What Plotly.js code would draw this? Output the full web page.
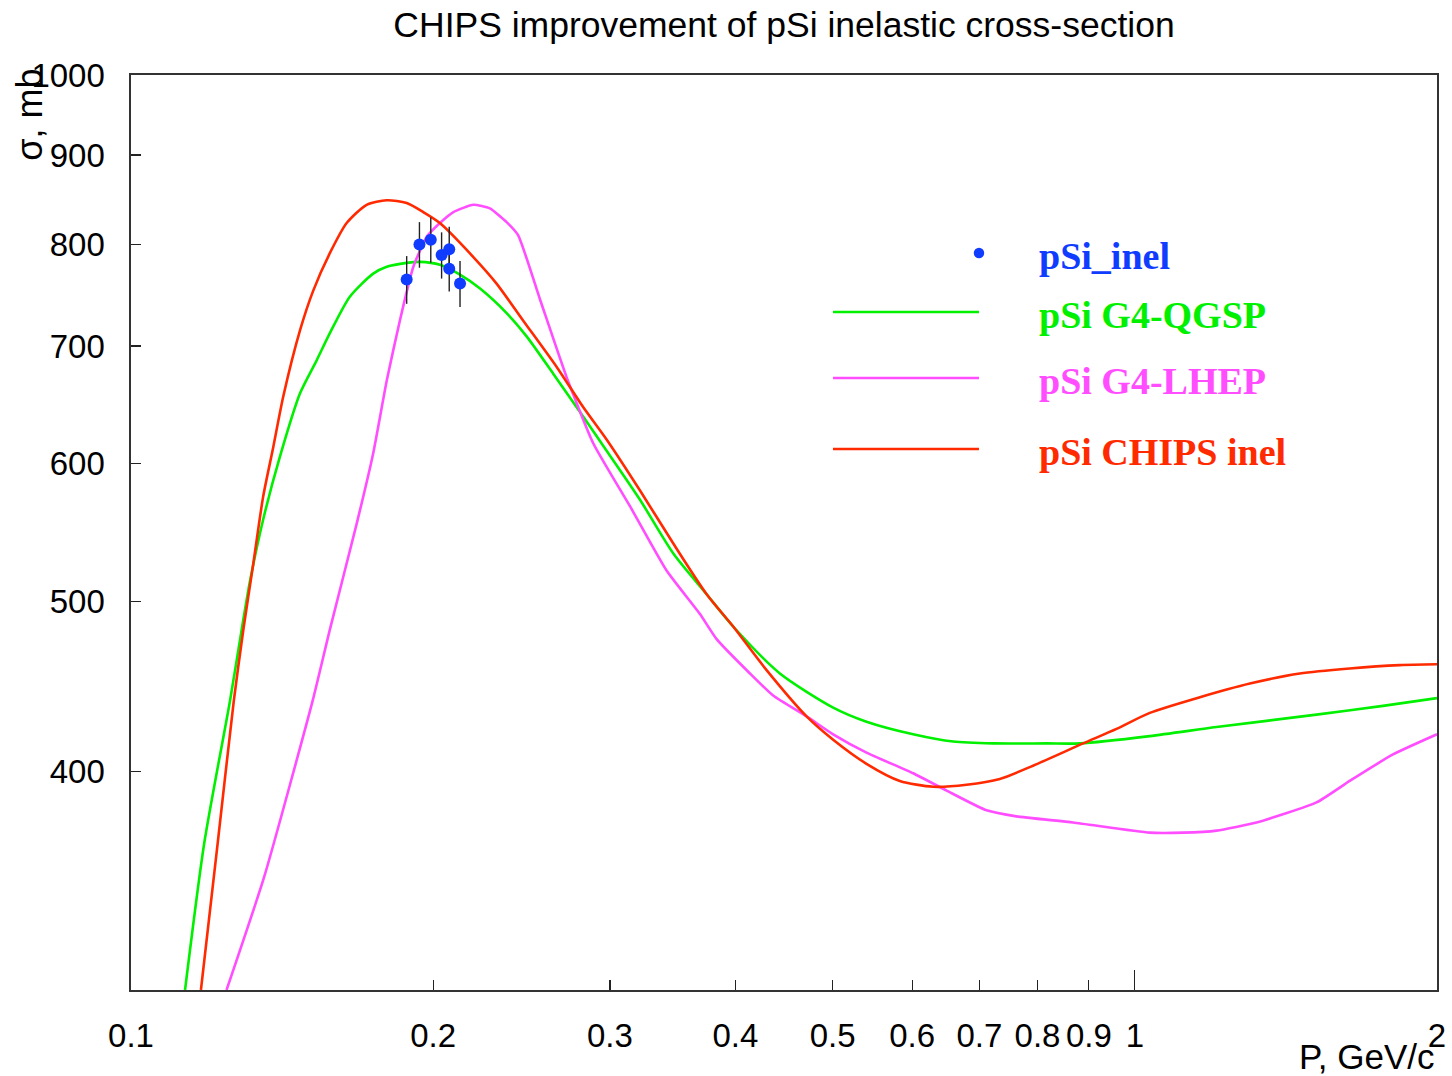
<!DOCTYPE html>
<html>
<head>
<meta charset="utf-8">
<script src="https://cdn.plot.ly/plotly-3.0.1.min.js"></script>
<style>html,body{margin:0;padding:0;background:#fff;}#chart{width:1452px;height:1076px;}</style>
</head>
<body>
<div id="chart"></div>
<script>
// ---- data ----
var expX = [0.1882, 0.1938, 0.1989, 0.2039, 0.2075, 0.2075, 0.2127];
var expY = [764, 800, 805, 789, 795, 775, 760];
var expErr = [24, 24, 24, 24, 24, 23, 23];

var qgspX = [0.1132,0.1183,0.1255,0.1289,0.1314,0.1354,0.1407,0.1474,0.1531,0.1578,
             0.1652,0.1743,0.1798,0.1882,0.1940,0.2031,0.2127,0.2227,0.2367,0.2478,
             0.2634,0.2821,0.2977,0.3213,0.3468,0.3745,0.3980,0.4430,0.5006,0.5404,
             0.6014,0.6593,0.7225,0.8168,0.8815,1.035,1.206,1.517,1.767,2.0];
var qgspY = [300,364,439,482,514,557,605,658,687,712,
             747,770,777,781,782,779,769,755,731,709,
             675,638,610,572,533,505,484,455,435,427,
             420,416,415,415,415,419,424,431,436,440.5];

var lhepX = [0.1245,0.1357,0.1517,0.1578,0.1678,0.1743,0.1798,0.1853,0.1911,0.1970,
             0.2031,0.2095,0.2193,0.2278,0.2367,0.2430,0.2556,0.2716,0.2887,0.3141,
             0.3416,0.3688,0.3832,0.4136,0.4362,0.4710,0.5006,0.5404,0.6014,0.6494,
             0.7117,0.7621,0.8681,1.035,1.117,1.206,1.322,1.517,1.637,1.808,2.0];
var lhepY = [300,348,439,482,554,608,669,724,777,808,
             823,835,843,839,824,810,744,672,616,567,
             521,492,476,455,442,430,420,410,399,390,
             380,377,374,369,369,370,374,384,395,409,420];

var chipsX = [0.1174,0.1220,0.1266,0.1294,0.1324,0.1354,0.1386,0.1418,0.1474,0.1519,0.1578,
              0.1640,0.1717,0.1798,0.1882,0.1955,0.2031,0.2193,0.2313,0.2458,0.2655,
              0.2821,0.2977,0.3213,0.3468,0.3745,0.3980,0.4297,0.4710,0.5006,0.5404,
              0.5833,0.6297,0.6798,0.7337,0.7918,0.8882,0.9589,1.035,1.161,1.302,
              1.460,1.637,1.836,2.0];
var chipsY = [300,364,439,482,526,574,613,655,715,753,791,
              823,843,848,845,835,823,787,760,724,681,
              646,619,579,540,505,484,457,430,417,404,
              395,392,393,396,403,415,423,432,441,449,
              455,458,460,460.5];

var xTicks = [0.1,0.2,0.3,0.4,0.5,0.6,0.7,0.8,0.9,1,2];
var xTickText = ['0.1','0.2','0.3','0.4','0.5','0.6','0.7','0.8','0.9','1','2'];
var yTicks = [400,500,600,700,800,900,1000];
var yTickText = ['400','500','600','700','800','900','1000'];

var seriesNames = ['pSi_inel', 'pSi G4-QGSP', 'pSi G4-LHEP', 'pSi CHIPS inel'];
var seriesColors = ['#0f3cff', '#00f000', '#ff4dff', '#ff2a00'];

var titleText = 'CHIPS improvement of pSi inelastic cross-section';
var xTitle = 'P, GeV/c';
var yTitle = 'σ, mb';

// ---- traces ----
var traces = [
  {x: qgspX, y: qgspY, mode: 'lines', name: seriesNames[1],
   line: {color: seriesColors[1], width: 2.6, shape: 'spline', smoothing: 0.7}, hoverinfo: 'x+y'},
  {x: lhepX, y: lhepY, mode: 'lines', name: seriesNames[2],
   line: {color: seriesColors[2], width: 2.6, shape: 'spline', smoothing: 0.5}, hoverinfo: 'x+y'},
  {x: chipsX, y: chipsY, mode: 'lines', name: seriesNames[3],
   line: {color: seriesColors[3], width: 2.6, shape: 'spline', smoothing: 0.7}, hoverinfo: 'x+y'},
  {x: expX, y: expY, mode: 'markers', name: seriesNames[0],
   marker: {color: seriesColors[0], size: 12},
   error_y: {type: 'data', array: expErr, visible: true, color: '#222', thickness: 1.4, width: 0}}
];

// ---- legend drawn in paper space (long sample lines as in the original) ----
var legLineX0 = 0.5375, legLineX1 = 0.6493, legTextX = 0.6935;
var legRowY = [0.8055, 0.7410, 0.6689, 0.5913];
var shapes = [];
var annotations = [];
shapes.push({type: 'circle', xref: 'paper', yref: 'paper',
  x0: legLineX1 - 0.0040, x1: legLineX1 + 0.0040,
  y0: legRowY[0] - 0.0057, y1: legRowY[0] + 0.0057,
  fillcolor: seriesColors[0], line: {width: 0}});
for (var i = 1; i < 4; i++) {
  shapes.push({type: 'line', xref: 'paper', yref: 'paper',
    x0: legLineX0, x1: legLineX1, y0: legRowY[i], y1: legRowY[i],
    line: {color: seriesColors[i], width: 2.4}});
}
for (var j = 0; j < 4; j++) {
  annotations.push({xref: 'paper', yref: 'paper', x: legTextX, y: legRowY[j] - 0.003,
    xanchor: 'left', yanchor: 'middle', showarrow: false, text: '<b>' + seriesNames[j] + '</b>',
    font: {family: 'Liberation Serif, Times New Roman, serif', size: 38, color: seriesColors[j]}});
}
annotations.push({xref: 'paper', yref: 'paper', x: -0.0773, y: 1.009, xanchor: 'center', yanchor: 'top',
  textangle: -90, showarrow: false, text: yTitle,
  font: {family: 'Liberation Sans, Arial, sans-serif', size: 36, color: '#000'}});
annotations.push({xref: 'paper', yref: 'paper', x: 1.0, y: -0.073, xanchor: 'right', yanchor: 'middle',
  showarrow: false, text: xTitle,
  font: {family: 'Liberation Sans, Arial, sans-serif', size: 35, color: '#000'}});

var layout = {
  width: 1452, height: 1076,
  margin: {l: 131, r: 15, t: 75, b: 86, pad: 0},
  paper_bgcolor: '#fff', plot_bgcolor: '#fff',
  showlegend: false,
  title: {text: titleText, xref: 'paper', x: 0.5, xanchor: 'center',
          yref: 'container', y: 0.977, yanchor: 'middle',
          font: {family: 'Liberation Sans, Arial, sans-serif', size: 35.5, color: '#000'}},
  font: {family: 'Liberation Sans, Arial, sans-serif', size: 33, color: '#000'},
  xaxis: {type: 'log', range: [-1, Math.log10(2)], tickmode: 'array',
          tickvals: xTicks, ticktext: xTickText, ticks: 'inside', ticklen: 10, tickwidth: 1.2,
          tickcolor: '#222', showgrid: false, zeroline: false, showline: true, mirror: true,
          linecolor: '#333', linewidth: 1.6, ticklabelstandoff: 16,
          tickfont: {family: 'Liberation Sans, Arial, sans-serif', size: 33, color: '#000'},
          minor: {tickmode: 'array', tickvals: [1], ticks: 'inside', ticklen: 20, tickcolor: '#222', tickwidth: 1.2, showgrid: false}},
  yaxis: {type: 'log', range: [Math.log10(300), 3], tickmode: 'array',
          tickvals: yTicks, ticktext: yTickText, ticks: 'inside', ticklen: 10, tickwidth: 1.2,
          tickcolor: '#222', showgrid: false, zeroline: false, showline: true, mirror: true,
          linecolor: '#333', linewidth: 1.6, ticklabelstandoff: 18,
          tickfont: {family: 'Liberation Sans, Arial, sans-serif', size: 33, color: '#000'}},
  shapes: shapes,
  annotations: annotations
};

Plotly.newPlot('chart', traces, layout, {displayModeBar: false, staticPlot: true});
</script>
</body>
</html>
